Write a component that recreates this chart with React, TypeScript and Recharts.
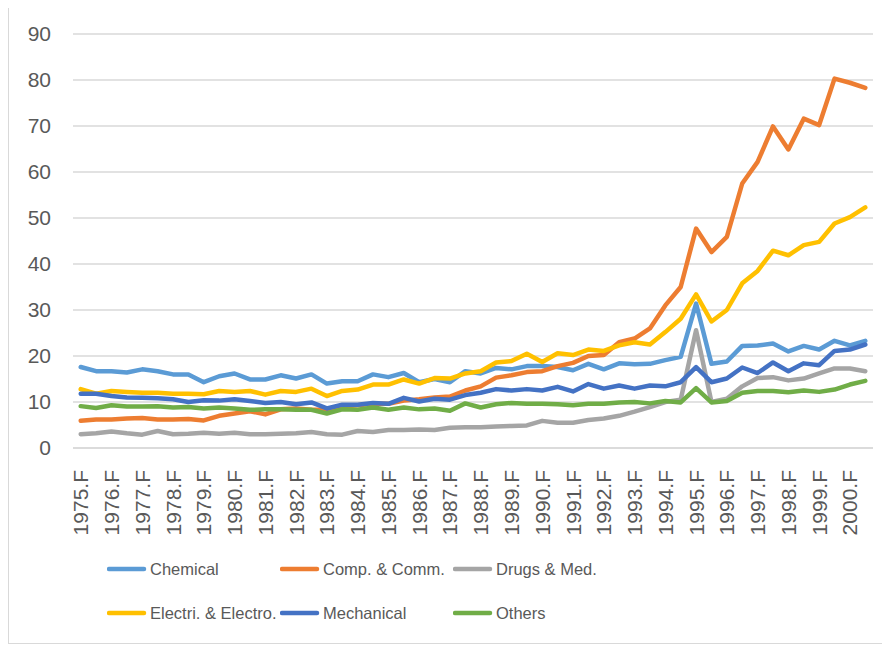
import { LineChart, Line, XAxis, YAxis, CartesianGrid, Legend } from 'recharts'

const years = [
  1975, 1976, 1977, 1978, 1979, 1980, 1981, 1982, 1983, 1984, 1985, 1986, 1987,
  1988, 1989, 1990, 1991, 1992, 1993, 1994, 1995, 1996, 1997, 1998, 1999, 2000,
]
// two periods per year, only the .F ones get a label
const periods = years.flatMap((y) => [`${y}.F`, `${y}.S`])

const chemical = [
  17.6, 16.7, 16.7, 16.4, 17.1, 16.7, 16.0, 16.0, 14.3, 15.6, 16.2, 14.9, 14.9,
  15.8, 15.1, 16.0, 14.0, 14.5, 14.5, 16.0, 15.4, 16.3, 14.3, 15.0, 14.3, 16.7,
  16.2, 17.4, 17.1, 17.8, 17.8, 17.6, 16.9, 18.3, 17.1, 18.4, 18.2, 18.3, 19.1,
  19.8, 31.4, 18.3, 18.8, 22.2, 22.3, 22.7, 21.0, 22.2, 21.4, 23.3, 22.3, 23.3,
]
const compComm = [
  5.9, 6.2, 6.2, 6.4, 6.5, 6.2, 6.2, 6.3, 6.0, 7.0, 7.5, 8.0, 7.3,
  8.4, 8.6, 8.3, 8.3, 9.0, 9.3, 9.6, 9.6, 10.3, 10.6, 11.0, 11.2, 12.5,
  13.4, 15.3, 15.8, 16.5, 16.7, 17.8, 18.5, 20.0, 20.2, 23.0, 23.8, 26.0, 31.0,
  35.0, 47.7, 42.6, 45.9, 57.5, 62.2, 69.9, 64.9, 71.6, 70.2, 80.3, 79.4, 78.3,
]
const drugsMed = [
  3.0, 3.2, 3.6, 3.2, 2.9, 3.7, 3.0, 3.1, 3.3, 3.1, 3.3, 3.0, 3.0,
  3.1, 3.2, 3.5, 3.0, 2.9, 3.7, 3.5, 3.9, 3.9, 4.0, 3.9, 4.4, 4.5,
  4.5, 4.7, 4.8, 4.9, 5.9, 5.5, 5.5, 6.1, 6.4, 7.0, 7.9, 8.9, 10.0,
  10.5, 25.6, 10.0, 10.7, 13.4, 15.2, 15.4, 14.7, 15.1, 16.2, 17.3, 17.3, 16.7,
]
const electri = [
  12.8, 11.8, 12.4, 12.2, 12.0, 12.0, 11.8, 11.8, 11.7, 12.4, 12.2, 12.4, 11.6,
  12.4, 12.2, 12.9, 11.3, 12.4, 12.7, 13.8, 13.8, 14.9, 14.0, 15.2, 15.1, 16.2,
  16.7, 18.6, 18.9, 20.5, 18.7, 20.6, 20.2, 21.4, 21.1, 22.3, 23.0, 22.5, 25.2,
  28.1, 33.4, 27.5, 30.0, 35.8, 38.5, 42.9, 41.9, 44.1, 44.8, 48.8, 50.2, 52.3,
]
const mechanical = [
  11.8, 11.8, 11.3, 11.0, 10.9, 10.8, 10.6, 10.0, 10.4, 10.3, 10.6, 10.2, 9.8,
  10.0, 9.5, 9.9, 8.6, 9.4, 9.4, 9.8, 9.6, 10.9, 10.1, 10.7, 10.5, 11.5,
  12.0, 12.8, 12.5, 12.8, 12.5, 13.3, 12.3, 13.9, 12.9, 13.6, 12.9, 13.6, 13.4,
  14.3, 17.6, 14.3, 15.1, 17.5, 16.3, 18.6, 16.7, 18.4, 18.0, 21.1, 21.4, 22.5,
]
const others = [
  9.1, 8.7, 9.3, 9.0, 9.0, 9.1, 8.8, 8.9, 8.6, 8.8, 8.6, 8.3, 8.4,
  8.4, 8.3, 8.3, 7.5, 8.4, 8.3, 8.8, 8.3, 8.8, 8.4, 8.6, 8.1, 9.7,
  8.8, 9.5, 9.8, 9.6, 9.6, 9.5, 9.3, 9.6, 9.6, 9.9, 10.0, 9.7, 10.2,
  9.9, 13.0, 9.9, 10.2, 12.0, 12.4, 12.4, 12.1, 12.5, 12.2, 12.7, 13.8, 14.6,
]

const yTicks = [0, 10, 20, 30, 40, 50, 60, 70, 80, 90]

const series = [
  { key: 'chemical', name: 'Chemical', color: '#5B9BD5' },
  { key: 'compComm', name: 'Comp. & Comm.', color: '#ED7D31' },
  { key: 'drugsMed', name: 'Drugs & Med.', color: '#A5A5A5' },
  { key: 'electri', name: 'Electri. & Electro.', color: '#FFC000' },
  { key: 'mechanical', name: 'Mechanical', color: '#4472C4' },
  { key: 'others', name: 'Others', color: '#70AD47' },
]

const data = periods.map((period, i) => ({
  period,
  chemical: chemical[i],
  compComm: compComm[i],
  drugsMed: drugsMed[i],
  electri: electri[i],
  mechanical: mechanical[i],
  others: others[i],
}))

const FONT = '"Liberation Sans", Arial, sans-serif'
const TEXT = '#595959'

function PeriodTick({ x, y, payload }: any) {
  return (
    <text
      x={x}
      y={y + 14}
      transform={`rotate(-90, ${x}, ${y + 14})`}
      textAnchor="end"
      dy="0.36em"
      fontSize={21}
      fontFamily={FONT}
      fill={TEXT}
    >
      {payload.value}
    </text>
  )
}

function renderLegend({ payload }: any) {
  return (
    <div
      style={{
        height: 90,
        paddingTop: 2,
        paddingLeft: 98,
        boxSizing: 'border-box',
        display: 'grid',
        gridTemplateColumns: '173px 173px 173px',
        gridAutoRows: 44,
        fontFamily: FONT,
        fontSize: 16.5,
        color: TEXT,
      }}
    >
      {(payload || []).map((p: any) => (
        <div key={p.value} style={{ display: 'flex', alignItems: 'center' }}>
          <svg width={43} height={10} style={{ flex: 'none' }}>
            <line x1={2} y1={5} x2={37} y2={5} stroke={p.color} strokeWidth={4.5} strokeLinecap="round" />
          </svg>
          <span style={{ whiteSpace: 'nowrap' }}>{p.value}</span>
        </div>
      ))}
    </div>
  )
}

export default function App() {
  return (
    <div style={{ width: 880, height: 636, border: '1px solid #d9d9d9', marginTop: -2, background: '#fff' }}>
      <LineChart width={880} height={636} data={data} margin={{ top: 27, right: 16, left: 0, bottom: 8 }}>
        <CartesianGrid vertical={false} stroke="#d9d9d9" strokeWidth={1.3} />
        <XAxis
          dataKey="period"
          interval={1}
          height={97}
          padding={{ left: 7.7, right: 7.7 }}
          tickLine={false}
          axisLine={{ stroke: '#d9d9d9', strokeWidth: 1.3 }}
          tick={<PeriodTick />}
        />
        <YAxis
          width={64}
          domain={[0, 90]}
          ticks={yTicks}
          tickLine={false}
          axisLine={false}
          tickSize={0}
          tickMargin={22}
          tick={{ fontSize: 21, fill: TEXT, fontFamily: FONT }}
        />
        <Legend verticalAlign="bottom" content={renderLegend} />
        {series.map((s) => (
          <Line
            key={s.key}
            dataKey={s.key}
            name={s.name}
            stroke={s.color}
            strokeWidth={4.5}
            strokeLinejoin="round"
            strokeLinecap="round"
            dot={false}
            type="linear"
            isAnimationActive={false}
          />
        ))}
      </LineChart>
    </div>
  )
}
